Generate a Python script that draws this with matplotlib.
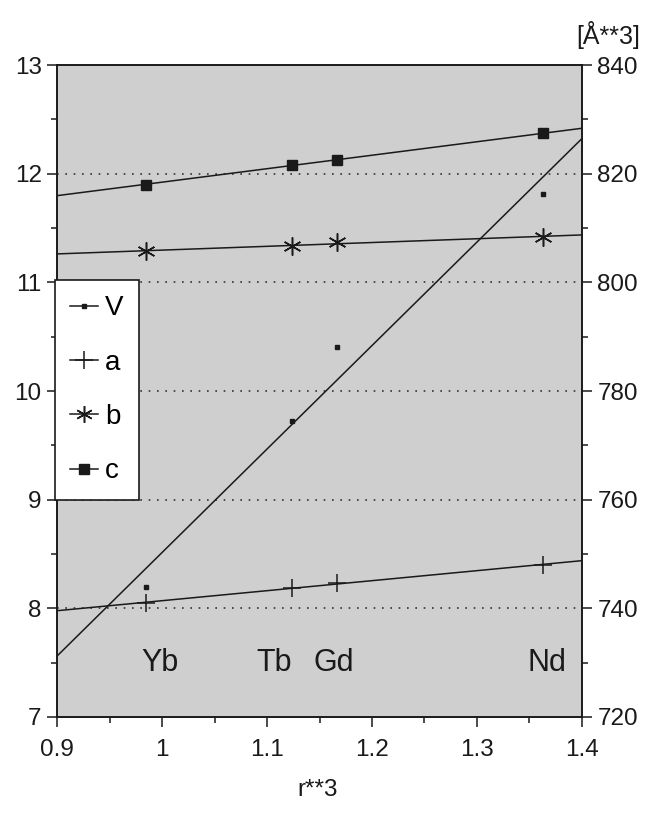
import numpy as np
import matplotlib
matplotlib.use("Agg")
import matplotlib.pyplot as plt
from matplotlib.ticker import MultipleLocator
from matplotlib.lines import Line2D

plt.rcParams['font.family'] = ['Liberation Sans', 'DejaVu Sans']

# Data
elements = ["Yb", "Tb", "Gd", "Nd"]
r3 = [0.985, 1.124, 1.167, 1.363]
a_vals = [8.05, 8.19, 8.23, 8.40]
b_vals = [11.29, 11.33, 11.37, 11.42]
c_vals = [11.90, 12.08, 12.13, 12.37]
V_vals = [743.9, 774.5, 788.1, 816.3]

label_x = [0.998, 1.107, 1.164, 1.367]
label_y = 7.5

fig = plt.figure(figsize=(6.45, 8.17), dpi=100)
ax = fig.add_axes([0.0884, 0.1224, 0.8139, 0.7980])
ax.set_facecolor('#cfcfcf')
ax2 = ax.twinx()

xlim = (0.9, 1.4)
xf = np.array(xlim)
ink = '#1a1a1a'

# grid lines (dotted)
for g in [8, 9, 10, 11, 12]:
    ax.axhline(g, color='#333333', lw=1.2, ls=(0, (1, 4)), zorder=1)

def fitline(axis, xs, ys):
    p = np.polyfit(xs, ys, 1)
    axis.plot(xf, np.polyval(p, xf), color=ink, lw=1.1, zorder=2)

fitline(ax, r3, a_vals)
fitline(ax, r3, b_vals)
fitline(ax, r3, c_vals)
fitline(ax2, r3, V_vals)

ax.plot(r3, a_vals, ls='none', marker='+', ms=13, mew=1.1, color=ink, zorder=3)
ax.plot(r3, b_vals, ls='none', marker=(6, 2, 0), ms=13, mew=1.1, color=ink, zorder=3)
ax.plot(r3, c_vals, ls='none', marker='s', ms=7, color=ink, zorder=3)
ax2.plot(r3, V_vals, ls='none', marker='s', ms=3.5, color=ink, zorder=3)

for name, lx in zip(elements, label_x):
    ax.text(lx, label_y, name, ha='center', va='center', fontsize=22, color=ink, zorder=4)

ax.set_xlim(*xlim)
ax.set_ylim(7, 13)
ax2.set_ylim(720, 840)

ax.xaxis.set_minor_locator(MultipleLocator(0.05))
ax.yaxis.set_major_locator(MultipleLocator(1))
ax.yaxis.set_minor_locator(MultipleLocator(0.5))
ax2.yaxis.set_major_locator(MultipleLocator(20))
ax2.yaxis.set_minor_locator(MultipleLocator(10))

ax.set_xticks(np.arange(0.9, 1.41, 0.1))
ax.set_xticklabels(["0.9", "1", "1.1", "1.2", "1.3", "1.4"])

for a_ in (ax, ax2):
    a_.tick_params(which='major', direction='out', length=7, width=1.1, labelsize=17.5, colors=ink, pad=4)
    a_.tick_params(which='minor', direction='out', length=4, width=1.1, colors=ink)
    for s in a_.spines.values():
        s.set_linewidth(1.2)
        s.set_color(ink)
ax.tick_params(axis='x', which='major', pad=9)

handles = [
    Line2D([], [], color=ink, lw=1.1, marker='s', ms=3.5),
    Line2D([], [], color=ink, lw=1.1, marker='+', ms=13, mew=1.1),
    Line2D([], [], color=ink, lw=1.1, marker=(6, 2, 0), ms=12, mew=1.1),
    Line2D([], [], color=ink, lw=1.1, marker='s', ms=7),
]
leg = ax2.legend(handles, ["V", "a", "b", "c"], loc='upper left',
                 bbox_to_anchor=(-0.004, 0.670), fontsize=20, frameon=True,
                 fancybox=False, edgecolor=ink, framealpha=1, handlelength=1.0,
                 handletextpad=0.25, labelspacing=1.02, borderpad=0.55,
                 borderaxespad=0, markerscale=1.0)
leg.get_frame().set_linewidth(1.2)
leg.set_zorder(10)

fig.text(608 / 645, 1 - 35 / 817, "[Å**3]", ha='center', va='center', fontsize=18, color=ink)
fig.text(318 / 645, 1 - 790 / 817, "r**3", ha='center', va='center', fontsize=17.5, color=ink)

fig.savefig("out.png", dpi=100)
